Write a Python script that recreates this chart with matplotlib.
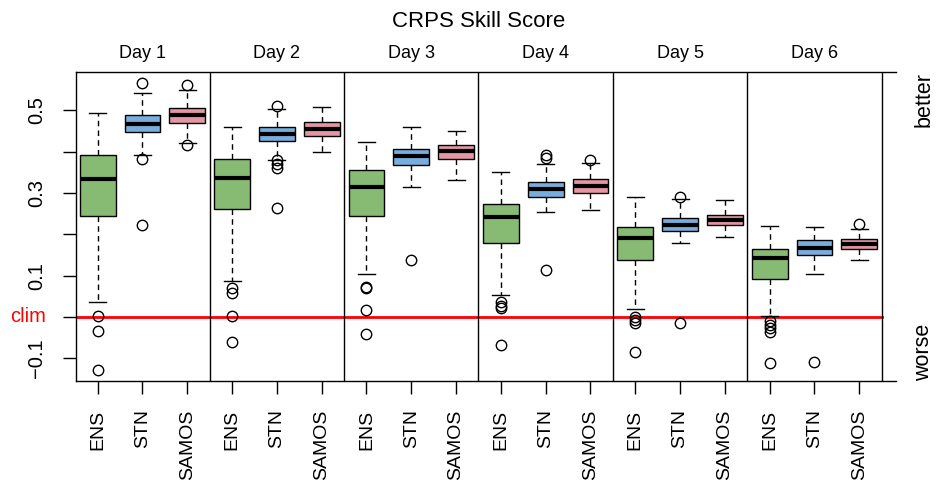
import matplotlib
matplotlib.use('Agg')
import matplotlib.pyplot as plt
import matplotlib.transforms as mtransforms

plt.rcParams['font.family'] = ['Liberation Sans', 'DejaVu Sans']

days = ['Day 1', 'Day 2', 'Day 3', 'Day 4', 'Day 5', 'Day 6']
models = ['ENS', 'STN', 'SAMOS']
model_colors = ['#87BA73', '#78AEDD', '#E496A6']

# box statistics, one value per day
ens_whishi = [0.494, 0.460, 0.423, 0.351, 0.290, 0.220]
ens_q3 = [0.392, 0.382, 0.355, 0.274, 0.217, 0.164]
ens_med = [0.334, 0.337, 0.314, 0.243, 0.191, 0.143]
ens_q1 = [0.245, 0.262, 0.245, 0.180, 0.137, 0.093]
ens_whislo = [0.035, 0.087, 0.105, 0.052, 0.019, 0.002]
ens_fliers = [[0.002, -0.033, -0.128], [0.069, 0.057, 0.002, -0.060],
              [0.073, 0.069, 0.018, -0.042], [0.036, 0.027, 0.021, -0.068],
              [0.001, -0.007, -0.015, -0.084],
              [-0.011, -0.019, -0.027, -0.036, -0.112]]

stn_whishi = [0.542, 0.503, 0.459, 0.371, 0.285, 0.218]
stn_q3 = [0.488, 0.459, 0.407, 0.326, 0.239, 0.185]
stn_med = [0.468, 0.443, 0.390, 0.310, 0.223, 0.166]
stn_q1 = [0.447, 0.426, 0.367, 0.291, 0.208, 0.151]
stn_whislo = [0.392, 0.380, 0.314, 0.255, 0.178, 0.104]
stn_fliers = [[0.565, 0.382, 0.222], [0.511, 0.380, 0.370, 0.360, 0.263],
              [0.139], [0.393, 0.385, 0.114], [0.290, -0.015], [-0.110]]

samos_whishi = [0.550, 0.507, 0.450, 0.372, 0.282, 0.212]
samos_q3 = [0.505, 0.471, 0.415, 0.333, 0.246, 0.188]
samos_med = [0.489, 0.456, 0.401, 0.317, 0.235, 0.177]
samos_q1 = [0.470, 0.439, 0.381, 0.301, 0.222, 0.165]
samos_whislo = [0.421, 0.399, 0.331, 0.258, 0.193, 0.139]
samos_fliers = [[0.561, 0.416], [], [], [0.380], [], [0.225]]

ytick_vals = [-0.1, 0.0, 0.1, 0.2, 0.3, 0.4, 0.5]
ytick_labels = ['\u22120.1', 'clim', '0.1', '', '0.3', '', '0.5']

series = [
    (ens_whislo, ens_q1, ens_med, ens_q3, ens_whishi, ens_fliers),
    (stn_whislo, stn_q1, stn_med, stn_q3, stn_whishi, stn_fliers),
    (samos_whislo, samos_q1, samos_med, samos_q3, samos_whishi, samos_fliers),
]

stats, positions, colors, labels = [], [], [], []
for d in range(len(days)):
    for m, (lo, q1, med, q3, hi, fl) in enumerate(series):
        stats.append({'whislo': lo[d], 'q1': q1[d], 'med': med[d],
                      'q3': q3[d], 'whishi': hi[d], 'fliers': fl[d]})
        positions.append(d * len(models) + m + 1)
        colors.append(model_colors[m])
        labels.append(models[m])

fig = plt.figure(figsize=(9.36, 4.8), dpi=100)
ax = fig.add_axes([76 / 936, 1 - 381 / 480, (896 - 76) / 936, (381 - 72.3) / 480])

bp = ax.bxp(stats, positions=positions, widths=0.8, capwidths=0.38,
            patch_artist=True, manage_ticks=False,
            boxprops=dict(edgecolor='black', linewidth=1.0),
            medianprops=dict(color='black', linewidth=3.0, solid_capstyle='butt'),
            whiskerprops=dict(color='black', linewidth=1.0, linestyle=(0, (4, 3))),
            capprops=dict(color='black', linewidth=1.0),
            flierprops=dict(marker='o', markerfacecolor='none', markeredgecolor='black',
                            markersize=7.5, markeredgewidth=1.0))
for patch, c in zip(bp['boxes'], colors):
    patch.set_facecolor(c)

n = len(positions)
ax.set_xlim(0.516, 18.82)
ax.set_ylim(-0.155, 0.592)

# panel separators and climatology line
for d in range(1, len(days) + 1):
    ax.axvline(d * len(models) + 0.5, color='black', linewidth=1.0)
ax.plot([0.5, n + 0.5], [0, 0], color='red', linewidth=2.0, zorder=1)

ax.spines['right'].set_visible(False)
for s in ['left', 'top', 'bottom']:
    ax.spines[s].set_linewidth(1.0)

ax.set_xticks(positions)
ax.set_xticklabels(labels, rotation=90, fontsize=14)
ax.set_yticks(ytick_vals)
ax.set_yticklabels(ytick_labels, fontsize=14.5)
ax.tick_params(axis='x', length=9.5, width=1.0, pad=11)
ax.tick_params(axis='y', length=9.5, width=1.0, pad=12)
for lbl in ax.get_yticklabels():
    if lbl.get_text() == 'clim':
        lbl.set_color('red')
        lbl.set_rotation(0)
        lbl.set_verticalalignment('center')
    else:
        lbl.set_rotation(90)
        lbl.set_verticalalignment('center')

trans = mtransforms.blended_transform_factory(ax.transData, ax.transAxes)
for d, day in enumerate(days):
    ax.text(d * len(models) + 2, 1.046, day, transform=trans,
            ha='center', va='baseline', fontsize=13)
ax.text((n + 1) / 2, 1.148, 'CRPS Skill Score', transform=trans,
        ha='center', va='baseline', fontsize=16)

ax.text(1.034, 1.0, 'better', transform=ax.transAxes, rotation=90,
        ha='center', va='top', fontsize=15.5)
ax.text(1.034, 0.0, 'worse', transform=ax.transAxes, rotation=90,
        ha='center', va='bottom', fontsize=15.5)

fig.savefig('out.png', dpi=100)
